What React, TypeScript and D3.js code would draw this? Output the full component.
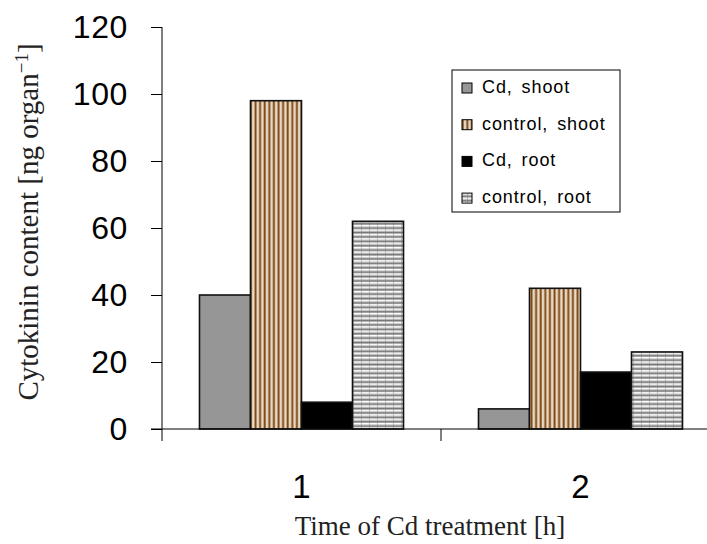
import React, { useEffect, useRef } from 'react';
import * as d3 from 'd3';

// chart values
const categories = ['1', '2'];
const seriesNames = ['Cd, shoot', 'control, shoot', 'Cd, root', 'control, root'];
const cdShoot = [40, 6];
const controlShoot = [98, 42];
const cdRoot = [8, 17];
const controlRoot = [62, 23];
const yTicks = [0, 20, 40, 60, 80, 100, 120];

const fills = ['#969696', 'url(#vstripe)', '#000000', 'url(#hstripe)'];

const App = () => {
  const ref = useRef<SVGSVGElement>(null);

  useEffect(() => {
    const width = 707;
    const height = 544;
    const margin = { top: 27, right: -13, bottom: 115, left: 162 };
    const innerW = width - margin.left - margin.right;
    const innerH = height - margin.top - margin.bottom;

    const svg = d3.select(ref.current);
    svg.selectAll('*').remove();

    // fill patterns
    const defs = svg.append('defs');
    const vp = defs.append('pattern')
      .attr('id', 'vstripe')
      .attr('patternUnits', 'userSpaceOnUse')
      .attr('width', 4.6).attr('height', 10);
    vp.append('rect').attr('width', 4.6).attr('height', 10).attr('fill', '#caa884');
    vp.append('rect').attr('x', 0.8).attr('width', 1.5).attr('height', 10).attr('fill', '#7a4610');
    vp.append('rect').attr('x', 3.2).attr('width', 1).attr('height', 10).attr('fill', '#ffffff');

    const hp = defs.append('pattern')
      .attr('id', 'hstripe')
      .attr('patternUnits', 'userSpaceOnUse')
      .attr('width', 8).attr('height', 4.4);
    hp.append('rect').attr('width', 8).attr('height', 4.4).attr('fill', '#b4b4b4');
    hp.append('rect').attr('y', 0).attr('width', 8).attr('height', 1.4).attr('fill', '#ffffff');
    hp.append('rect').attr('y', 2.8).attr('width', 8).attr('height', 0.9).attr('fill', '#6a6a6a');
    hp.append('rect').attr('x', 7).attr('width', 0.8).attr('height', 4.4).attr('fill', '#777777').attr('opacity', 0.5);

    const g = svg.append('g')
      .attr('transform', `translate(${margin.left},${margin.top})`);

    const x0 = d3.scaleBand().domain(categories).range([0, innerW]);
    const x1 = d3.scaleBand().domain(seriesNames)
      .range([0, x0.bandwidth()])
      .paddingInner(0)
      .paddingOuter(0.735);
    const y = d3.scaleLinear().domain([0, 120]).range([innerH, 0]);

    const series = [cdShoot, controlShoot, cdRoot, controlRoot];

    // bars
    categories.forEach((c, ci) => {
      series.forEach((s, si) => {
        g.append('rect')
          .attr('x', (x0(c) ?? 0) + (x1(seriesNames[si]) ?? 0))
          .attr('y', y(s[ci]))
          .attr('width', x1.bandwidth())
          .attr('height', innerH - y(s[ci]))
          .attr('fill', fills[si])
          .attr('stroke', '#111')
          .attr('stroke-width', 1.6);
      });
    });

    // y axis
    const yAxis = g.append('g')
      .call(d3.axisLeft(y).tickValues(yTicks).tickSize(11).tickPadding(23));
    yAxis.select('.domain').attr('stroke', '#000').attr('d', `M0,${innerH}V0`);
    yAxis.selectAll('text')
      .attr('font-family', 'Arial, Liberation Sans, sans-serif')
      .attr('font-size', 32)
      .attr('letter-spacing', 0.6)
      .attr('fill', '#000');

    // x axis
    const xAxis = g.append('g').attr('transform', `translate(0,${innerH})`);
    xAxis.append('line')
      .attr('x1', -11).attr('x2', innerW)
      .attr('y1', 0).attr('y2', 0)
      .attr('stroke', '#000');
    [0, x0.bandwidth(), innerW].forEach(t => {
      xAxis.append('line')
        .attr('x1', t).attr('x2', t)
        .attr('y1', 0).attr('y2', 12)
        .attr('stroke', '#000');
    });
    categories.forEach(c => {
      xAxis.append('text')
        .attr('x', (x0(c) ?? 0) + x0.bandwidth() / 2)
        .attr('y', 69)
        .attr('text-anchor', 'middle')
        .attr('font-family', 'Arial, Liberation Sans, sans-serif')
        .attr('font-size', 33)
        .text(c);
    });

    // axis titles
    svg.append('text')
      .attr('x', 430)
      .attr('y', 535)
      .attr('text-anchor', 'middle')
      .attr('font-family', 'Liberation Serif, Times New Roman, serif')
      .attr('font-size', 27)
      .attr('fill', '#222')
      .text('Time of Cd treatment [h]');

    const yt = svg.append('text')
      .attr('transform', 'translate(38,222) rotate(-90)')
      .attr('text-anchor', 'middle')
      .attr('font-family', 'Liberation Serif, Times New Roman, serif')
      .attr('font-size', 29)
      .attr('fill', '#222');
    yt.append('tspan').text('Cytokinin content [ng organ');
    yt.append('tspan').attr('dy', -10).attr('font-size', 19).text('−1');
    yt.append('tspan').attr('dy', 10).text(']');

    // legend
    const leg = svg.append('g').attr('transform', 'translate(452,70)');
    leg.append('rect')
      .attr('width', 168).attr('height', 142)
      .attr('fill', '#fff')
      .attr('stroke', '#000')
      .attr('stroke-width', 1);
    seriesNames.forEach((name, i) => {
      const base = 23 + i * 36.7;
      leg.append('rect')
        .attr('x', 10).attr('y', base - 10)
        .attr('width', 10).attr('height', 10)
        .attr('fill', fills[i])
        .attr('stroke', '#000')
        .attr('stroke-width', 1);
      leg.append('text')
        .attr('x', 30).attr('y', base)
        .attr('font-family', 'Arial, Liberation Sans, sans-serif')
        .attr('font-size', 18)
        .attr('letter-spacing', 0.9)
        .attr('word-spacing', 3)
        .text(name);
    });
  }, []);

  return (
    <svg ref={ref} width={707} height={544}
      style={{ position: 'absolute', left: 0, top: 0, background: '#fff' }} />
  );
};

export default App;
